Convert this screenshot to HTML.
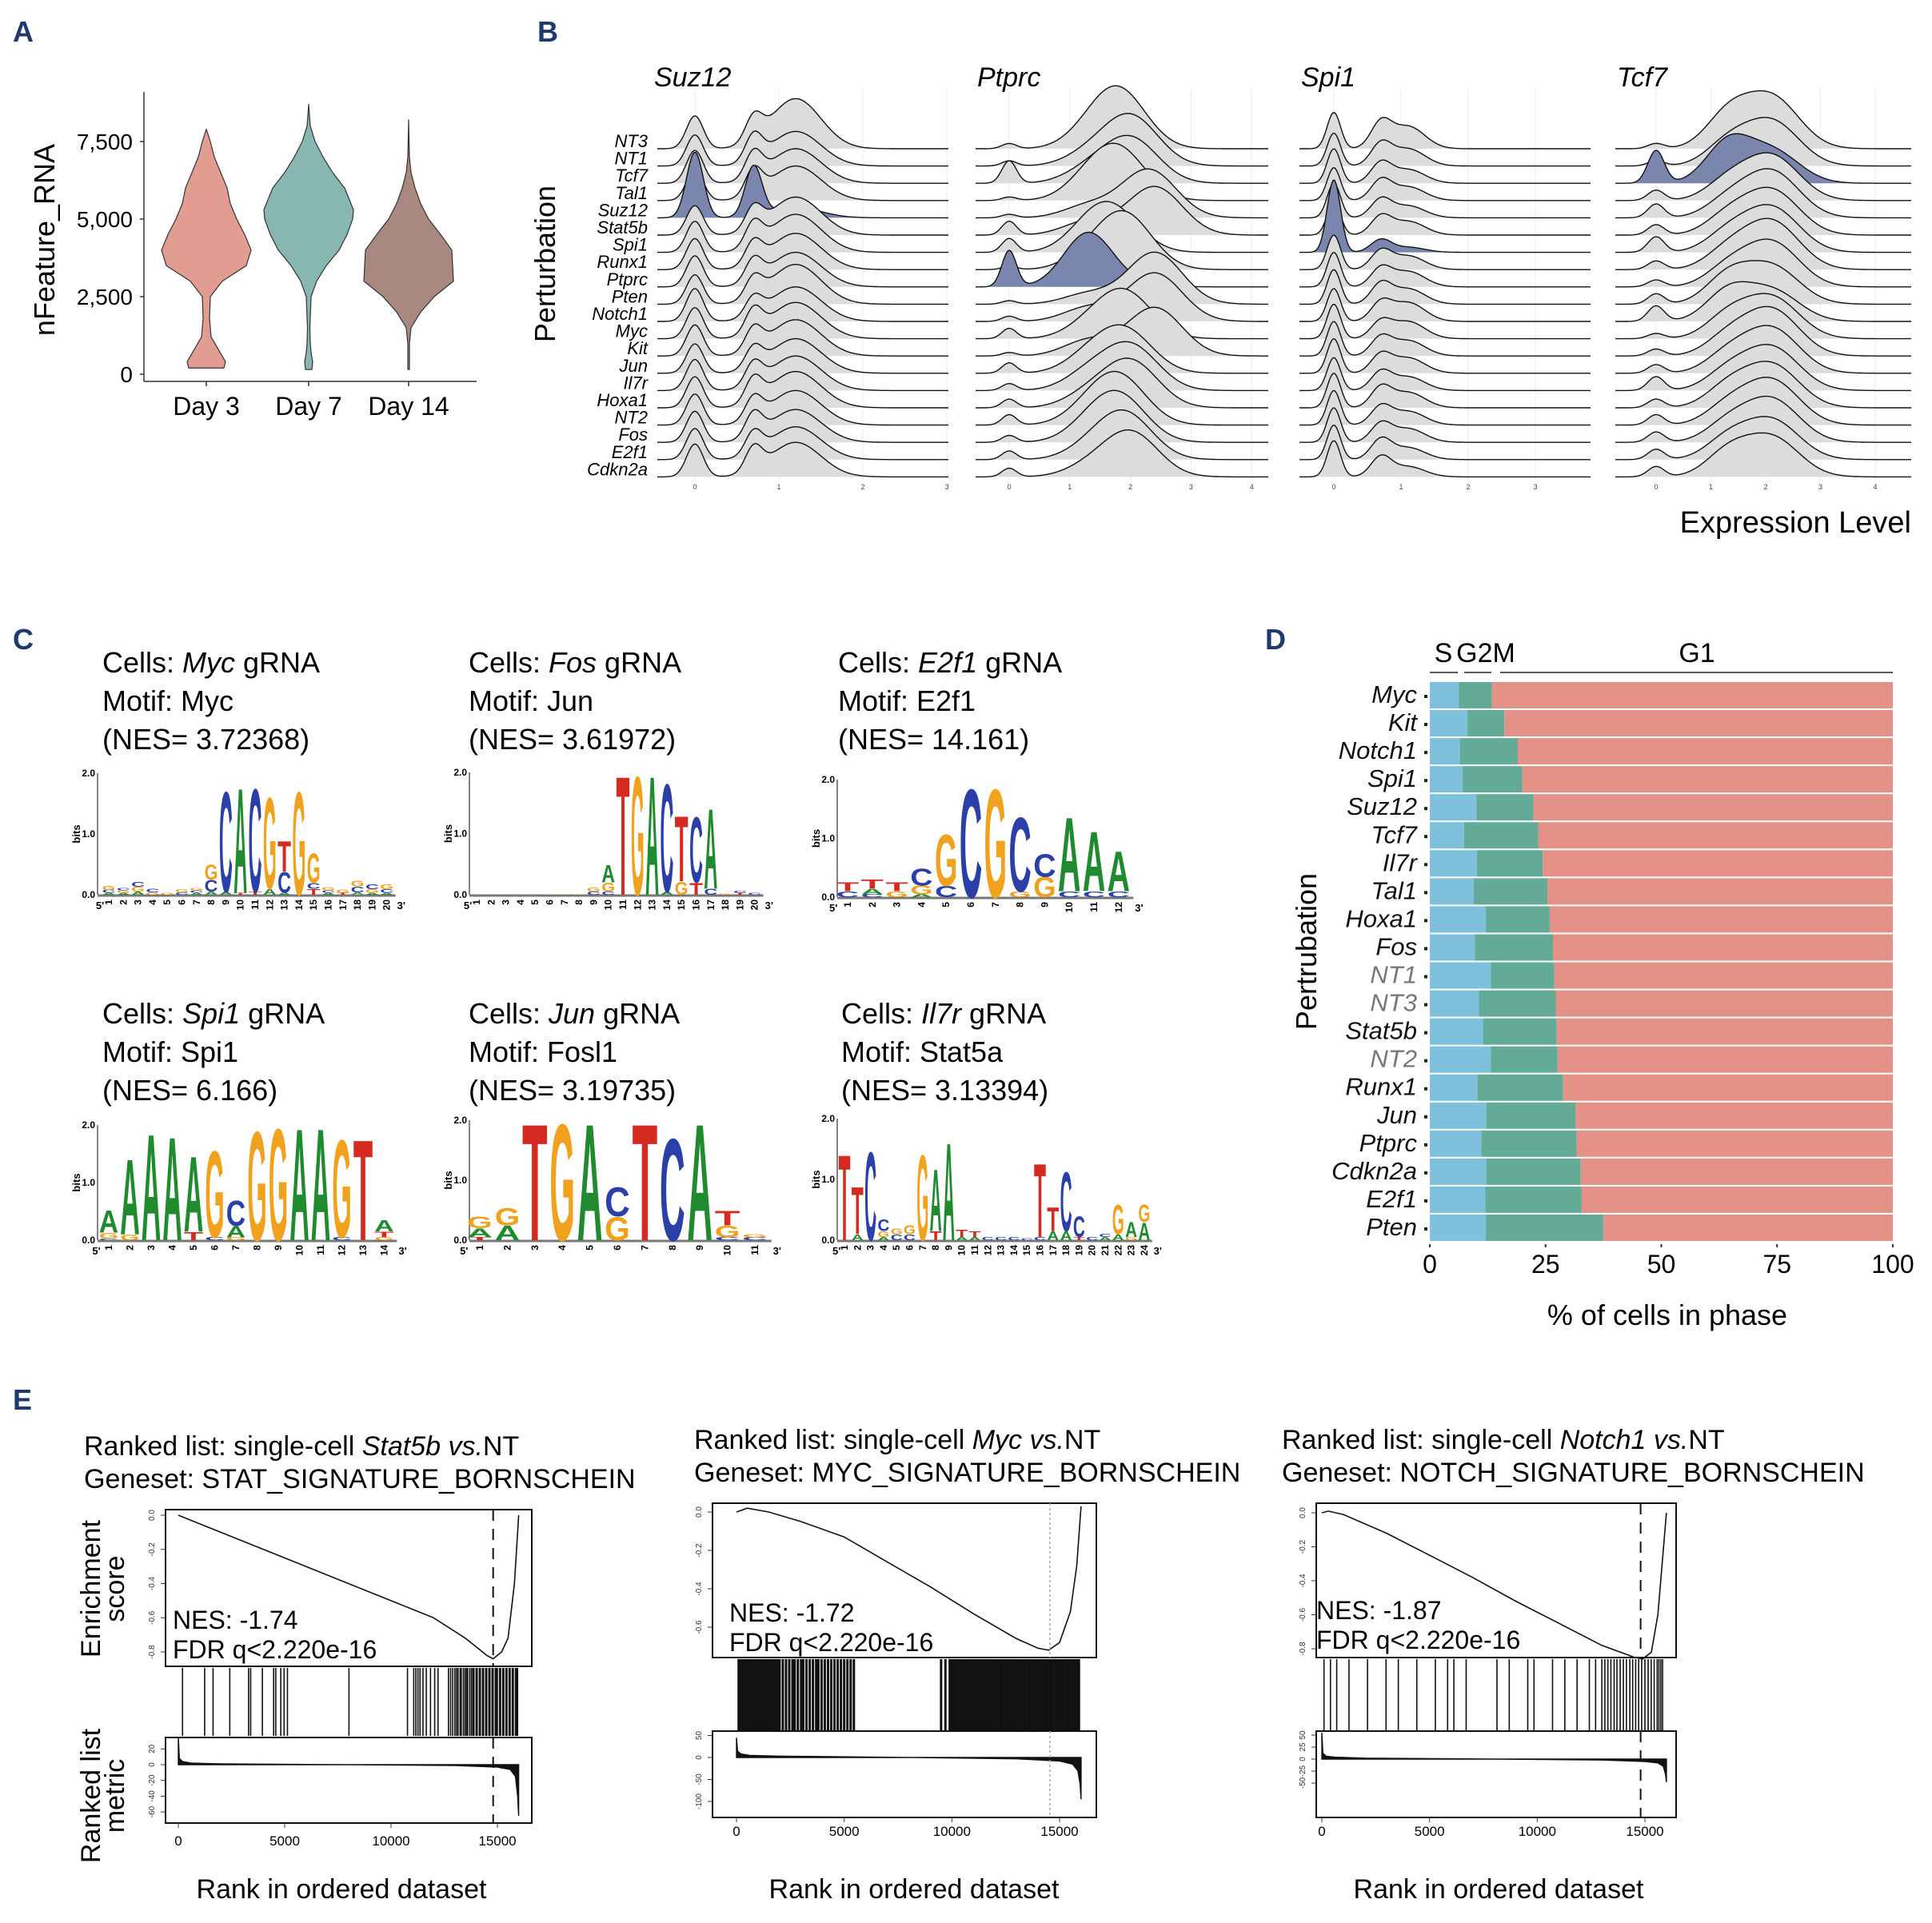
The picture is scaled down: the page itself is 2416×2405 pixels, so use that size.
<!DOCTYPE html>
<html><head><meta charset="utf-8"><style>
html,body{margin:0;padding:0;background:#fff}
svg{display:block;font-family:"Liberation Sans",sans-serif}
.nar{font-family:"Liberation Sans Narrow","Liberation Sans",sans-serif}
</style></head><body>
<svg id="fig" xmlns="http://www.w3.org/2000/svg" width="2416" height="2405" viewBox="0 0 2416 2405">
<rect x="0" y="0" width="2416" height="2405" fill="#fff"/>
<g font-weight="bold" font-size="36" fill="#1f3a6e">
<text x="16" y="52">A</text>
<text x="672" y="52">B</text>
<text x="16" y="812">C</text>
<text x="1582" y="812">D</text>
<text x="16" y="1763">E</text>
</g>
<text x="68" y="300" font-size="36" text-anchor="middle" transform="rotate(-90 68 300)">nFeature_RNA</text>
<text x="694" y="330" font-size="36" text-anchor="middle" transform="rotate(-90 694 330)">Perturbation</text>
<text x="2390" y="666" font-size="38" text-anchor="end" class="nar">Expression Level</text>
<g font-size="34" font-style="italic" class="nar">
<text x="818" y="108">Suz12</text>
<text x="1222" y="108">Ptprc</text>
<text x="1627" y="108">Spi1</text>
<text x="2022" y="108">Tcf7</text>
</g>
<g font-size="36">
<text x="128" y="841">Cells: <tspan font-style="italic">Myc</tspan> gRNA</text>
<text x="128" y="889">Motif: Myc</text>
<text x="128" y="937">(NES= 3.72368)</text>
<text x="586" y="841">Cells: <tspan font-style="italic">Fos</tspan> gRNA</text>
<text x="586" y="889">Motif: Jun</text>
<text x="586" y="937">(NES= 3.61972)</text>
<text x="1048" y="841">Cells: <tspan font-style="italic">E2f1</tspan> gRNA</text>
<text x="1048" y="889">Motif: E2f1</text>
<text x="1048" y="937">(NES= 14.161)</text>
<text x="128" y="1280">Cells: <tspan font-style="italic">Spi1</tspan> gRNA</text>
<text x="128" y="1328">Motif: Spi1</text>
<text x="128" y="1376">(NES= 6.166)</text>
<text x="586" y="1280">Cells: <tspan font-style="italic">Jun</tspan> gRNA</text>
<text x="586" y="1328">Motif: Fosl1</text>
<text x="586" y="1376">(NES= 3.19735)</text>
<text x="1052" y="1280">Cells: <tspan font-style="italic">Il7r</tspan> gRNA</text>
<text x="1052" y="1328">Motif: Stat5a</text>
<text x="1052" y="1376">(NES= 3.13394)</text>
</g>
<text x="1646" y="1190" font-size="36" text-anchor="middle" transform="rotate(-90 1646 1190)">Pertrubation</text>
<text x="2085" y="1657" font-size="36" text-anchor="middle">% of cells in phase</text>
<g font-size="34">
<text x="1805" y="828" text-anchor="middle">S</text>
<text x="1858" y="828" text-anchor="middle">G2M</text>
<text x="2122" y="828" text-anchor="middle">G1</text>
</g>
<g stroke="#222" stroke-width="1.5">
<line x1="1788" y1="841" x2="1823" y2="841"/>
<line x1="1831" y1="841" x2="1865" y2="841"/>
<line x1="1876" y1="841" x2="2367" y2="841"/>
</g>
<g font-size="34">
<text x="105" y="1820">Ranked list: single-cell <tspan font-style="italic">Stat5b vs.</tspan>NT</text>
<text x="105" y="1861">Geneset: STAT_SIGNATURE_BORNSCHEIN</text>
<text x="868" y="1812">Ranked list: single-cell <tspan font-style="italic">Myc vs.</tspan>NT</text>
<text x="868" y="1853">Geneset: MYC_SIGNATURE_BORNSCHEIN</text>
<text x="1603" y="1812">Ranked list: single-cell <tspan font-style="italic">Notch1 vs.</tspan>NT</text>
<text x="1603" y="1853">Geneset: NOTCH_SIGNATURE_BORNSCHEIN</text>
<text x="427" y="2374" text-anchor="middle">Rank in ordered dataset</text>
<text x="1143" y="2374" text-anchor="middle">Rank in ordered dataset</text>
<text x="1874" y="2374" text-anchor="middle">Rank in ordered dataset</text>
<g transform="translate(125 1987) rotate(-90)"><text x="0" y="0" text-anchor="middle">Enrichment</text><text x="0" y="30" text-anchor="middle">score</text></g>
<g transform="translate(125 2246) rotate(-90)"><text x="0" y="0" text-anchor="middle">Ranked list</text><text x="0" y="30" text-anchor="middle">metric</text></g>
</g>
<g id="dyn"></g>
</svg>
<script>
const violinDays = ['Day 3', 'Day 7', 'Day 14'];
const violinLevels3 = [200, 400, 800, 1200, 1800, 2500, 3000, 3500, 4000, 4500, 5000, 5500, 6000, 6500, 7000, 7500, 7900];
const violinWidths3 = [22, 24, 15, 6, 4, 5, 20, 50, 56, 48, 38, 30, 26, 18, 10, 5, 0];
const violinLevels7 = [150, 400, 700, 1000, 1500, 2500, 3000, 3500, 4000, 4500, 5000, 5300, 6000, 6500, 7000, 7500, 8000, 8700];
const violinWidths7 = [4, 5, 3, 2, 1.5, 3, 10, 22, 38, 48, 55, 56, 45, 30, 18, 8, 2, 0];
const violinLevels14 = [150, 1000, 1500, 2000, 2500, 3000, 3500, 4000, 4500, 5000, 5500, 6000, 6500, 7000, 8200];
const violinWidths14 = [1, 1, 3, 15, 32, 56, 55, 54, 40, 25, 15, 8, 3, 1, 0];
const violinColors = ['#e29d92', '#88b6b0', '#a98880'];
const aTicks = [0, 2500, 5000, 7500];
const aTickLabels = ['0', '2,500', '5,000', '7,500'];

const ridgeRows = ['NT3','NT1','Tcf7','Tal1','Suz12','Stat5b','Spi1','Runx1','Ptprc','Pten','Notch1','Myc','Kit','Jun','Il7r','Hoxa1','NT2','Fos','E2f1','Cdkn2a'];
const ridgeGenes = ['Suz12', 'Ptprc', 'Spi1', 'Tcf7'];
const suzMeans = [0, 0.7, 1.2];
const suzSds = [0.1, 0.1, 0.3];
const suzWeights = [[1.9,1.4,2.9],[1.8,1.5,2.0],[1.9,1.5,2.0],[1.8,1.5,2.0],[3.8,2.9,0.6],[1.7,1.3,2.2],[1.8,1.4,2.2],[1.8,1.3,2.1],[1.8,1.3,2.0],[1.7,1.2,2.3],[1.9,1.1,2.0],[1.8,1.4,2.1],[1.8,1.3,2.1],[1.7,1.2,2.0],[1.8,1.3,2.0],[1.8,1.4,2.1],[1.8,1.3,2.0],[1.8,1.4,1.9],[1.8,1.3,1.9],[1.9,1.4,2.0]];
const ptprcMeans = [0, 1.3, 2.0];
const ptprcSds = [0.12, 0.4, 0.45];
const ptprcMainMean = [1.8,2.0,2.0,1.8,2.3,2.4,1.7,1.9,2.0,2.4,2.4,1.9,2.4,1.9,2.0,2.0,1.8,1.8,1.9,2.0];
const ptprcWeights = [[0.3,0.5,3.4],[0.3,0.6,2.9],[1.3,0.7,2.6],[0.2,0.8,2.9],[0.2,0.7,2.8],[0.8,0.8,2.8],[0.8,0.8,2.4],[0.2,0.6,3.2],[2.1,3.1,0.2],[0.2,0.6,3.0],[0.3,0.8,2.8],[0.6,0.6,2.7],[0.2,0.9,2.8],[0.6,0.8,2.5],[0.4,0.9,2.6],[0.5,0.7,2.7],[0.6,0.6,2.8],[0.4,0.6,2.7],[0.5,0.5,2.7],[0.5,0.5,2.6]];
const spiMeans = [0, 0.7, 1.1];
const spiSds = [0.1, 0.15, 0.25];
const spiWeights = [[2.1,1.4,1.3],[1.9,1.2,1.0],[2.0,1.1,0.8],[1.9,1.1,0.8],[2.0,1.0,0.7],[1.9,1.0,0.8],[4.2,0.7,0.3],[2.0,1.0,0.8],[2.0,1.0,0.9],[2.0,1.1,0.9],[1.9,1.0,1.1],[2.0,0.9,1.0],[2.0,1.0,0.9],[2.0,1.0,0.9],[1.9,1.0,0.8],[2.0,1.1,0.9],[2.0,1.0,0.8],[2.0,1.0,0.8],[2.0,1.1,0.7],[2.1,1.1,0.6]];
const tcfMeans = [0, 1.3, 2.1];
const tcfSds = [0.15, 0.4, 0.5];
const tcfWeights = [[0.3,1.8,3.0],[0.3,1.2,2.6],[1.9,2.2,1.9],[0.6,1.0,2.6],[0.8,0.9,2.7],[0.6,1.0,2.6],[0.9,1.0,2.6],[0.5,1.0,2.8],[0.4,1.0,2.6],[0.6,1.5,2.2],[0.9,1.6,1.8],[0.3,1.2,2.4],[0.4,1.0,2.7],[0.5,1.0,2.6],[0.8,1.0,2.5],[0.5,1.1,2.5],[0.6,1.0,2.6],[0.6,1.0,2.5],[0.6,1.1,2.3],[0.6,1.3,2.3]];
const ridgeTicks = [[0,1,2,3],[0,1,2,3,4],[0,1,2,3],[0,1,2,3,4]];

const logo1 = ['A:.03|C:.05|G:.07','A:.03|G:.04|C:.04','A:.05|G:.08|C:.08','G:.04|C:.06','G:.03','C:.04|G:.05','A:.03|C:.04|G:.04','A:.05|C:.2|G:.25','A:.05|C:1.7','T:.03|A:1.78','T:.05|C:1.75','A:.1|G:1.55','A:.03|C:.35|T:.52','G:1.75','T:.1|C:.1|G:.5','A:.03|C:.04|G:.05','T:.03|G:.05','A:.04|C:.1|G:.1','A:.03|G:.06|C:.08','A:.03|C:.06|G:.08'];
const logo2 = ['','','','','','G:.01','G:.01','G:.01','C:.05|G:.07','C:.05|G:.15|A:.3','T:2.0','G:2.0','A:2.0','A:.05|C:1.82','G:.22|T:1.1','T:.2|C:1.1','C:.1|A:1.35','G:.02','T:.03|C:.03','C:.03'];
const logo3 = ['C:.1|T:.15','C:.05|A:.1|T:.15','G:.1|T:.15','A:.05|G:.15|C:.3','C:.2|G:.9','C:1.9','G:1.9','G:.1|C:1.3','G:.35|C:.4','C:.1|A:1.3','C:.1|A:1.05','C:.1|A:.7'];
const logo4 = ['C:.03|G:.1|A:.4','G:.1|A:1.35','A:1.9','A:1.85','T:.15|A:1.35','C:.05|G:1.55','G:.05|A:.2|C:.45','G:1.95','G:2.0','A:2.0','A:2.0','C:.05|G:1.75','T:1.8','G:.05|T:.1|A:.2'];
const logo5 = ['T:.05|A:.15|G:.2','A:.25|G:.3','T:2.0','G:2.0','A:2.0','G:.4|C:.5','T:2.0','C:1.75','A:2.0','C:.05|G:.2|T:.25','C:.05|G:.05'];
const logo6 = ['T:1.45','A:.1|T:.8','C:1.5','A:.05|G:.1|C:.2','C:.1|G:.1','C:.1|G:.15','G:1.45','T:.15|A:1.05','A:1.65','A:.05|T:.12','A:.05|T:.1','C:.05','C:.05','C:.05','C:.03','C:.05|T:1.25','A:.15|T:.4','A:.15|C:1.0','T:.05|C:.35','C:.05','A:.05|C:.05','A:.1|G:.5','G:.05|A:.25','A:.3|G:.3'];

const phaseRows = ['Myc','Kit','Notch1','Spi1','Suz12','Tcf7','Il7r','Tal1','Hoxa1','Fos','NT1','NT3','Stat5b','NT2','Runx1','Jun','Ptprc','Cdkn2a','E2f1','Pten'];
const phaseS = [6.3,8.1,6.5,7.1,10.1,7.4,10.2,9.5,12.1,9.7,13.2,10.6,11.5,13.2,10.3,12.2,11.1,12.2,12.0,12.1];
const phaseG2M = [7.1,8.0,12.5,12.9,12.3,16.0,14.2,15.9,13.8,16.9,13.7,16.6,15.9,14.4,18.5,19.3,20.6,20.4,20.8,25.4];
const dTicks = [0, 25, 50, 75, 100];

const e1EsRanks = [0,2000,4000,6000,8000,10000,12000,13500,14500,14800,15200,15500,15800,15950,16000];
const e1EsVals = [0,-0.1,-0.2,-0.3,-0.4,-0.5,-0.6,-0.72,-0.82,-0.84,-0.8,-0.72,-0.4,-0.1,0];
const e2EsRanks = [0,500,1500,3000,5000,7000,9000,11000,13000,14000,14500,15000,15500,15800,16000];
const e2EsVals = [0,0.02,0.0,-0.05,-0.13,-0.26,-0.39,-0.53,-0.66,-0.71,-0.72,-0.68,-0.52,-0.28,0.03];
const e3EsRanks = [0,300,1000,3000,5000,7000,9000,11000,13000,14500,14900,15300,15600,15900,16000];
const e3EsVals = [0,0.01,-0.01,-0.12,-0.25,-0.38,-0.52,-0.65,-0.78,-0.85,-0.86,-0.82,-0.6,-0.15,0];
const e1Hits = [197,1238,1632,2418,3303,3401,3951,4482,4580,4816,4973,5130,8021,10773,11068,11167,11265,11363,11501,11658,11855,12051,12209,12700,12800,12900,13000,13080,13150,13250,13300,13400,13480,13550,13600,13700,13780,13850,13900,14000,14050,14150,14200,14300,14350,14450,14500,14600,14650,14750,14800,14900,14950,15000,15100,15150,15250,15300,15400,15450,15550,15600,15700,15750,15850,15900,15950];
const e2Hits = [100,200,300,400,500,600,700,800,900,1000,1100,1200,1300,1400,1500,1600,1700,1800,1900,2000,2150,2300,2450,2600,2700,2850,3000,3100,3250,3400,3550,3700,3800,3950,4100,4250,4400,4550,4700,4850,5000,5150,5300,5450,9500,9700,9900,10000,10100,10200,10300,10400,10500,10600,10700,10800,10900,11000,11100,11200,11300,11400,11500,11600,11700,11800,11900,12000,12100,12200,12300,12400,12500,12600,12700,12800,12900,13000,13100,13200,13300,13400,13500,13600,13700,13800,13900,14000,14100,14200,14300,14400,14500,14600,14700,14800,14900,15000,15100,15200,15300,15400,15500,15600,15700,15800,15900];
const e3Hits = [100,400,690,1260,2120,2980,3550,4410,5270,5840,6130,6700,8130,8700,9560,9850,10710,11280,11850,12420,12710,13000,13140,13280,13420,13570,13700,13850,14000,14140,14300,14430,14570,14710,14850,15000,15150,15290,15430,15570,15650,15740,15820];
const e1MetricRanks = [0,50,200,600,2000,8000,13000,15000,15600,15850,15950,16000];
const e1MetricVals = [35,8,4,2,1,0,-1,-3,-6,-15,-40,-65];
const e2MetricRanks = [0,50,200,600,2000,8000,13000,15000,15600,15850,15950,16000];
const e2MetricVals = [45,15,8,5,3,0,-3,-8,-15,-30,-60,-95];
const e3MetricRanks = [0,50,200,600,2000,8000,13000,15000,15600,15850,15950,16000];
const e3MetricVals = [55,12,6,4,2,0,-2,-5,-8,-15,-30,-48];
const eRankTicks = [0, 5000, 10000, 15000];
const eEsTicks = [0, -0.2, -0.4, -0.6, -0.8];
const eEsTickLabels = ['0.0', '-0.2', '-0.4', '-0.6', '-0.8'];

const NS = 'http://www.w3.org/2000/svg';
const root = document.getElementById('dyn');
function mk(tag, attrs, parent, txt) {
  const e = document.createElementNS(NS, tag);
  for (const k in attrs) e.setAttribute(k, attrs[k]);
  if (txt !== undefined) e.textContent = txt;
  (parent || root).appendChild(e);
  return e;
}
let el;

const aY = v => 468 - v * (97 / 2500);
const aCenters = [258, 386, 511];
el = mk('line', {x1:180, y1:115, x2:180, y2:477, stroke:'#333', 'stroke-width':1.5});


el = mk('line', {x1:180, y1:477, x2:596, y2:477, stroke:'#333', 'stroke-width':1.5});


aTicks.forEach((t, i) => {
  el = mk('line', {x1:175, y1:aY(t), x2:180, y2:aY(t), stroke:'#333', 'stroke-width':1.5});
  
  
  el = mk('text', {x:166, y:aY(t) + 10, 'font-size':28, 'text-anchor':'end', class:'nar'}, root, aTickLabels[i]);
  
  
});
const vLevels = [violinLevels3, violinLevels7, violinLevels14];
const vWidths = [violinWidths3, violinWidths7, violinWidths14];
violinDays.forEach((d, i) => {
  const c = aCenters[i];
  const L = vLevels[i], Wd = vWidths[i];
  let p = 'M' + (c - Wd[0]) + ' ' + aY(L[0]);
  for (let k = 0; k < L.length; k++) p += ' L' + (c + Wd[k]) + ' ' + aY(L[k]);
  for (let k = L.length - 1; k >= 0; k--) p += ' L' + (c - Wd[k]) + ' ' + aY(L[k]);
  p += ' Z';
  el = mk('path', {d:p, fill:violinColors[i], stroke:'#333', 'stroke-width':1.2, 'stroke-linejoin':'round'});
  
  
  el = mk('line', {x1:c, y1:477, x2:c, y2:483, stroke:'#333', 'stroke-width':1.5});
  
  
  el = mk('text', {x:c, y:519, 'font-size':32, 'text-anchor':'middle'}, root, d);
  
  
});

const ridgePanels = [
  {x0:869, unit:105, left:822, right:1186, means:suzMeans, sds:suzSds, w:suzWeights, hl:'Suz12'},
  {x0:1262, unit:75.8, left:1220, right:1587, means:ptprcMeans, sds:ptprcSds, w:ptprcWeights, main:ptprcMainMean, hl:'Ptprc'},
  {x0:1668, unit:84, left:1625, right:1990, means:spiMeans, sds:spiSds, w:spiWeights, hl:'Spi1'},
  {x0:2071, unit:68.5, left:2020, right:2390, means:tcfMeans, sds:tcfSds, w:tcfWeights, hl:'Tcf7'}
];
const rowPitch = 21.6, baseTop = 186;
ridgePanels.forEach((P, pi) => {
  ridgeTicks[pi].forEach(t => {
    const x = P.x0 + t * P.unit;
    el = mk('line', {x1:x, y1:110, x2:x, y2:600, stroke:'#ececec', 'stroke-width':1});
    
    
    el = mk('text', {x:x, y:612, 'font-size':9, 'text-anchor':'middle', fill:'#444'}, root, String(t));
    
    
  });
  ridgeRows.forEach((r, ri) => {
    const base = baseTop + ri * rowPitch;
    const w = P.w[ri];
    const means = P.means.slice();
    if (P.main && r !== P.hl) means[2] = P.main[ri];
    let pts = [];
    for (let x = P.left; x <= P.right; x += 2) {
      const u = (x - P.x0) / P.unit;
      let f = 0;
      for (let k = 0; k < 3; k++) f += w[k] * Math.exp(-0.5 * Math.pow((u - means[k]) / P.sds[k], 2));
      pts.push([x, base - f * rowPitch]);
    }
    const line = pts.map((q, j) => (j ? 'L' : 'M') + q[0].toFixed(1) + ' ' + q[1].toFixed(1)).join(' ');
    const hl = r === P.hl;
    el = mk('path', {d: line + ' L' + P.right + ' ' + base + ' L' + P.left + ' ' + base + ' Z', fill: hl ? '#7a86ad' : '#dcdcdc', stroke:'none'});
    
    
    el = mk('path', {d: line, fill:'none', stroke:'#111', 'stroke-width':1.4});
    
    
  });
});
ridgeRows.forEach((r, ri) => {
  el = mk('text', {x:810, y:baseTop + ri * rowPitch - 2, 'font-size':22, 'text-anchor':'end', 'font-style':'italic', class:'nar'}, root, r);
  
  
});

const logoColors = {A:'#1f8a2e', C:'#2a3fa8', G:'#f0a21e', T:'#d42a20'};
const logos = [
  {data:logo1, x1:136, pitch:18.3, y0:1119, bit:76, ax:122},
  {data:logo2, x1:596, pitch:18.3, y0:1119, bit:76.5, ax:587},
  {data:logo3, x1:1060, pitch:30.8, y0:1122, bit:73.5, ax:1047},
  {data:logo4, x1:136, pitch:26.5, y0:1551, bit:72, ax:122},
  {data:logo5, x1:600, pitch:34.4, y0:1551, bit:75, ax:587},
  {data:logo6, x1:1056, pitch:16.3, y0:1551, bit:76, ax:1047}
];
logos.forEach((L, li) => {
  const n = L.data.length;
  const xEnd = L.x1 + (n - 1) * L.pitch + L.pitch * 0.6;
  el = mk('line', {x1:L.ax, y1:L.y0 - 2 * L.bit, x2:L.ax, y2:L.y0, stroke:'#333', 'stroke-width':1.2});
  
  
  el = mk('line', {x1:L.ax, y1:L.y0 + 1, x2:xEnd, y2:L.y0 + 1, stroke:'#777', 'stroke-width':3});
  
  
  [0, 1, 2].forEach(b => {
    el = mk('text', {x:L.ax - 3, y:L.y0 - b * L.bit + 4, 'font-size':12, 'font-weight':'bold', 'text-anchor':'end'}, root, b.toFixed(1));
    
    
  });
  el = mk('text', {x:0, y:0, 'font-size':13, 'font-weight':'bold', 'text-anchor':'middle', transform:'translate(' + (L.ax - 22) + ' ' + (L.y0 - L.bit) + ') rotate(-90)'}, root, 'bits');
  
  
  el = mk('text', {x:L.x1 - L.pitch * 0.55 - 6, y:L.y0 + 18, 'font-size':13, 'font-weight':'bold'}, root, "5'");
  
  
  el = mk('text', {x:xEnd + 2, y:L.y0 + 18, 'font-size':13, 'font-weight':'bold'}, root, "3'");
  
  
  L.data.forEach((s, pi) => {
    const cx = L.x1 + pi * L.pitch;
    el = mk('text', {x:0, y:0, 'font-size':12, 'font-weight':'bold', 'text-anchor':'end', transform:'translate(' + (cx + 4) + ' ' + (L.y0 + 6) + ') rotate(-90)'}, root, String(pi + 1));
    
    
    if (!s) return;
    let yb = L.y0;
    const wpx = L.pitch * 0.92;
    s.split('|').forEach(item => {
      const [letter, hs] = item.split(':');
      const h = parseFloat(hs) * L.bit;
      if (h < 0.3) return;
      const g = mk('g', {transform:'translate(' + (cx - wpx / 2).toFixed(2) + ' ' + yb.toFixed(2) + ') scale(' + (wpx / 100).toFixed(4) + ' ' + (h / 72).toFixed(4) + ')'});
      
      
      el = mk('text', {x:0, y:0, 'font-size':100, 'font-weight':'bold', fill:logoColors[letter], textLength:100, lengthAdjust:'spacingAndGlyphs'}, g, letter);
      
      
      yb -= h;
    });
  });
});

const dX = v => 1788 + v * 5.79;
const dRowY = i => 853 + i * 35.05;
phaseRows.forEach((r, i) => {
  const y = dRowY(i), h = 33;
  const sEnd = phaseS[i], gEnd = phaseS[i] + phaseG2M[i];
  el = mk('rect', {x:dX(0), y:y, width:dX(sEnd) - dX(0), height:h, fill:'#7fc1dc'});
  
  
  el = mk('rect', {x:dX(sEnd), y:y, width:dX(gEnd) - dX(sEnd), height:h, fill:'#63ab97'});
  
  
  el = mk('rect', {x:dX(gEnd), y:y, width:dX(100) - dX(gEnd), height:h, fill:'#e49187'});
  
  
  const nt = r.startsWith('NT');
  el = mk('text', {x:1772, y:y + 26, 'font-size':31, 'font-style':'italic', 'text-anchor':'end', fill: nt ? '#777' : '#111'}, root, r);
  
  
  el = mk('rect', {x:1781, y:y + 16, width:4, height:4, fill:'#222'});
  
  
});
dTicks.forEach(t => {
  el = mk('line', {x1:dX(t), y1:1556, x2:dX(t), y2:1560, stroke:'#333', 'stroke-width':2});
  
  
  el = mk('text', {x:dX(t), y:1592, 'font-size':32, 'text-anchor':'middle'}, root, String(t));
  
  
});

const ePlots = [
  {bx0:207, bx1:665, by0:1888, by1:2084, bc1:2171, ly0:2173, ly1:2280, r0:223, r15:622, es0:1895, es08:2066, esR:e1EsRanks, esV:e1EsVals, hits:e1Hits, mR:e1MetricRanks, mV:e1MetricVals, m0:2207, mScale:0.985, mTicks:[20,0,-20,-40,-60], dash:14800, dashStyle:'dashed', nesX:216, nesY:2037, nes:'NES: -1.74', tickY:2308},
  {bx0:891, bx1:1371, by0:1880, by1:2073, bc1:2165, ly0:2165, ly1:2273, r0:921, r15:1325, es0:1891, es08:2083, esR:e2EsRanks, esV:e2EsVals, hits:e2Hits, mR:e2MetricRanks, mV:e2MetricVals, m0:2198, mScale:0.55, mTicks:[50,0,-50,-100], dash:14550, dashStyle:'dotted', nesX:912, nesY:2028, nes:'NES: -1.72', tickY:2296},
  {bx0:1646, bx1:2096, by0:1880, by1:2073, bc1:2165, ly0:2165, ly1:2273, r0:1653, r15:2057, es0:1892, es08:2062, esR:e3EsRanks, esV:e3EsVals, hits:e3Hits, mR:e3MetricRanks, mV:e3MetricVals, m0:2200, mScale:0.6, mTicks:[50,25,0,-25,-50], dash:14800, dashStyle:'dashed', nesX:1646, nesY:2025, nes:'NES: -1.87', tickY:2296}
];
ePlots.forEach((E, ei) => {
  const rx = r => E.r0 + r * (E.r15 - E.r0) / 15000;
  const ey = v => E.es0 + (v / -0.8) * (E.es08 - E.es0);
  const my = v => E.m0 - v * E.mScale;
  el = mk('rect', {x:E.bx0, y:E.by0, width:E.bx1 - E.bx0, height:E.by1 - E.by0, fill:'none', stroke:'#111', 'stroke-width':2});
  
  
  el = mk('rect', {x:E.bx0, y:E.ly0, width:E.bx1 - E.bx0, height:E.ly1 - E.ly0, fill:'none', stroke:'#111', 'stroke-width':2});
  
  
  el = mk('polyline', {points:E.esR.map((r, k) => rx(r).toFixed(1) + ',' + ey(E.esV[k]).toFixed(1)).join(' '), fill:'none', stroke:'#111', 'stroke-width':1.6});
  
  
  eEsTicks.forEach((t, k) => {
    if (ey(t) > E.by1) return;
    el = mk('text', {x:0, y:0, 'font-size':10, 'text-anchor':'middle', fill:'#333', transform:'translate(' + (E.bx0 - 14) + ' ' + ey(t) + ') rotate(-90)'}, root, eEsTickLabels[k]);
    
    
    el = mk('line', {x1:E.bx0 - 6, y1:ey(t), x2:E.bx0, y2:ey(t), stroke:'#333', 'stroke-width':1});
    
    
  });
  E.hits.forEach(h => {
    el = mk('line', {x1:rx(h), y1:E.by1 + 2, x2:rx(h), y2:E.bc1, stroke:'#111', 'stroke-width':ei === 1 ? 3 : 1.6});
    
    
  });
  let mp = 'M' + rx(E.mR[0]) + ' ' + my(0);
  E.mR.forEach((r, k) => { mp += ' L' + rx(r).toFixed(1) + ' ' + my(E.mV[k]).toFixed(1); });
  mp += ' L' + rx(E.mR[E.mR.length - 1]) + ' ' + my(0) + ' Z';
  el = mk('path', {d:mp, fill:'#111', stroke:'#111', 'stroke-width':1.4});
  
  
  E.mTicks.forEach(t => {
    el = mk('text', {x:0, y:0, 'font-size':10, 'text-anchor':'middle', fill:'#333', transform:'translate(' + (E.bx0 - 14) + ' ' + my(t) + ') rotate(-90)'}, root, String(t));
    
    
    el = mk('line', {x1:E.bx0 - 6, y1:my(t), x2:E.bx0, y2:my(t), stroke:'#333', 'stroke-width':1});
    
    
  });
  const dattrs = E.dashStyle === 'dashed' ? {stroke:'#111', 'stroke-width':2, 'stroke-dasharray':'14 10'} : {stroke:'#aaa', 'stroke-width':1.5, 'stroke-dasharray':'3 3'};
  [[E.by0, E.by1], [E.ly0, E.ly1]].forEach(seg => {
    el = mk('line', Object.assign({x1:rx(E.dash), y1:seg[0], x2:rx(E.dash), y2:seg[1]}, dattrs));
    
    
  });
  eRankTicks.forEach(t => {
    el = mk('line', {x1:rx(t), y1:E.ly1, x2:rx(t), y2:E.ly1 + 6, stroke:'#333', 'stroke-width':1});
    
    
    el = mk('text', {x:rx(t), y:E.tickY, 'font-size':17, 'text-anchor':'middle'}, root, String(t));
    
    
  });
  el = mk('text', {x:E.nesX, y:E.nesY, 'font-size':32}, root, E.nes);
  
  
  el = mk('text', {x:E.nesX, y:E.nesY + 37, 'font-size':32}, root, 'FDR q<2.220e-16');
  
  
});
</script>
</body></html>
